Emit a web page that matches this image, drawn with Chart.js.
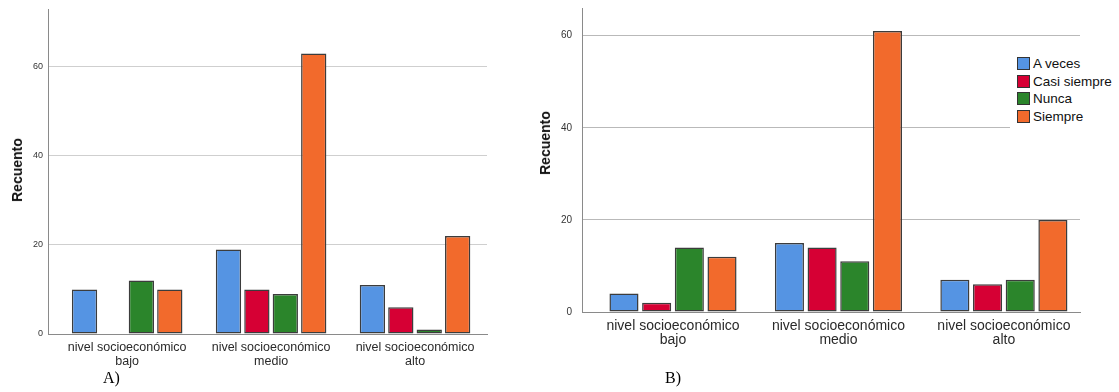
<!DOCTYPE html>
<html>
<head>
<meta charset="utf-8">
<script src="https://cdn.jsdelivr.net/npm/chart.js@4"></script>
<style>
  body { margin: 0; background: #fff; width: 1119px; height: 392px; position: relative; overflow: hidden; font-family: "Liberation Sans", Arial, sans-serif; }
  canvas { position: absolute; top: 0; }
  #chartA { left: 0; }
  #chartB { left: 530px; }
  .ytitle { position: absolute; font-weight: bold; font-size: 14px; color: #111; transform: translate(-50%, -50%) rotate(-90deg); white-space: nowrap; }
  .panel { position: absolute; font-family: "Liberation Serif", "Times New Roman", serif; font-size: 16px; color: #000; }
  #legendB { position: absolute; left: 1010px; top: 36px; width: 109px; height: 92px; background: #fff; }
  #legendB div { position: absolute; left: 7px; height: 18px; font-size: 13.5px; color: #111; line-height: 13px; white-space: nowrap; }
  #legendB span { display: inline-block; width: 11px; height: 11px; border: 1px solid #333; margin-right: 3px; vertical-align: top; }
</style>
</head>
<body>
<canvas id="chartA" width="500" height="392"></canvas>
<canvas id="chartB" width="589" height="392"></canvas>
<div class="ytitle" style="left:17px; top:170px;">Recuento</div>
<div class="ytitle" style="left:545px; top:143px;">Recuento</div>
<div class="panel" style="left:103px; top:369px;">A)</div>
<div class="panel" style="left:665px; top:369px;">B)</div>
<div id="legendB"></div>
<script>
// categorias del eje x (dos lineas cada una)
const categories = [
  ['nivel socioeconómico', 'bajo'],
  ['nivel socioeconómico', 'medio'],
  ['nivel socioeconómico', 'alto']
];
const seriesNames = ['A veces', 'Casi siempre', 'Nunca', 'Siempre'];
const seriesColors = ['#5594e3', '#d60034', '#2b852b', '#f26a2c'];
const yTicks = [0, 20, 40, 60];

// grafico A)
const aVecesA = [10, 19, 11];
const casiSiempreA = [0, 10, 6];
const nuncaA = [12, 9, 1];
const siempreA = [10, 63, 22];

// grafico B)
const aVecesB = [4, 15, 7];
const casiSiempreB = [2, 14, 6];
const nuncaB = [14, 11, 7];
const siempreB = [12, 61, 20];

function makeDatasets(series) {
  return series.map(function (values, s) {
    return {
      label: seriesNames[s],
      data: values.map(function (v, i) { return { x: i, y: v }; }),
      backgroundColor: seriesColors[s],
      borderColor: '#3c3c3c',
      borderWidth: 1.5,
      borderSkipped: false,
      categoryPercentage: 0.79,
      barPercentage: 0.89
    };
  });
}

function makeChart(id, series, cfg) {
  const ctx = document.getElementById(id).getContext('2d');
  return new Chart(ctx, {
    type: 'bar',
    data: { datasets: makeDatasets(series) },
    options: {
      responsive: false,
      animation: false,
      devicePixelRatio: 1,
      layout: { padding: { top: cfg.top, right: cfg.right, left: 0, bottom: 0 } },
      plugins: { legend: { display: false }, tooltip: { enabled: false } },
      scales: {
        x: {
          type: 'linear',
          offset: false,
          min: -0.55,
          max: cfg.xMax,
          grid: { display: false, drawTicks: false, offset: false },
          border: { display: true, color: '#8a8a8a', width: 1 },
          ticks: {
            stepSize: 1,
            includeBounds: false,
            autoSkip: false,
            maxRotation: 0,
            padding: 7,
            color: '#2a2a2a',
            font: { family: 'Liberation Sans', size: cfg.xFont, lineHeight: 14 / cfg.xFont },
            callback: function (value) { return categories[value]; }
          },
          afterFit: function (scale) {
            scale.height = cfg.xHeight;
            scale.paddingLeft = 0;
            scale.paddingRight = 0;
          }
        },
        y: {
          min: 0,
          max: cfg.yMax,
          grid: { color: cfg.gridColor, lineWidth: 1, drawTicks: false },
          border: { display: true, color: '#8a8a8a', width: 1 },
          ticks: {
            stepSize: 20,
            includeBounds: false,
            padding: cfg.tickPad,
            color: '#333',
            font: { family: 'Liberation Sans', size: cfg.yFont }
          },
          afterBuildTicks: function (scale) {
            scale.ticks = yTicks.map(function (v) { return { value: v }; });
          },
          afterFit: function (scale) {
            scale.width = cfg.yWidth;
            scale.paddingTop = 0;
            scale.paddingBottom = 0;
          }
        }
      }
    }
  });
}

makeChart('chartA', [aVecesA, casiSiempreA, nuncaA, siempreA], {
  top: 9, right: 13, yWidth: 48, xHeight: 58, yMax: 73, xMax: 2.5,
  xFont: 12.5, yFont: 9, tickPad: 5, gridColor: '#cfcfcf'
});

makeChart('chartB', [aVecesB, casiSiempreB, nuncaB, siempreB], {
  top: 8, right: 39, yWidth: 52, xHeight: 80, yMax: 66, xMax: 2.46,
  xFont: 14, yFont: 10, tickPad: 10, gridColor: '#b9b9b9'
});

// leyenda del grafico B)
const legendBox = document.getElementById('legendB');
seriesNames.forEach(function (name, i) {
  const row = document.createElement('div');
  row.style.top = (21 + i * 17.7) + 'px';
  const sw = document.createElement('span');
  sw.style.background = seriesColors[i];
  row.appendChild(sw);
  row.appendChild(document.createTextNode(name));
  legendBox.appendChild(row);
});
</script>
</body>
</html>
